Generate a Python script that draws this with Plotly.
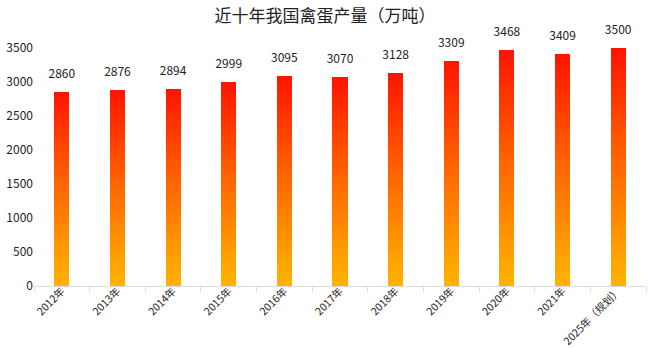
import plotly.graph_objects as go
import numpy as np

categories = ["2012年", "2013年", "2014年", "2015年", "2016年", "2017年",
              "2018年", "2019年", "2020年", "2021年", "2025年（规划）"]
values = [2860, 2876, 2894, 2999, 3095, 3070, 3128, 3309, 3468, 3409, 3500]
value_labels = [str(v) for v in values]

N = 60
bottom_rgb = np.array([255, 180, 0])
mid_rgb = np.array([255, 105, 0])
top_rgb = np.array([255, 20, 0])

def color_at(f):
    if f < 0.5:
        c = bottom_rgb + (mid_rgb - bottom_rgb) * (f / 0.5)
    else:
        c = mid_rgb + (top_rgb - mid_rgb) * ((f - 0.5) / 0.5)
    return "rgb(%d,%d,%d)" % tuple(c.round().astype(int))

fig = go.Figure()
vals = np.array(values, dtype=float)
for i in range(N):
    f = (i + 0.5) / N
    fig.add_trace(go.Bar(
        x=categories, y=vals / N,
        marker=dict(color=color_at(f), line=dict(width=0)),
        showlegend=False, hoverinfo="skip",
    ))

fig.add_trace(go.Scatter(
    x=categories, y=values, mode="markers+text", text=value_labels,
    textposition="top center",
    marker=dict(size=16, color="rgba(0,0,0,0)"),
    textfont=dict(size=12, color="#222222", family="Noto Sans CJK SC"),
    showlegend=False, cliponaxis=False, hoverinfo="skip",
))

fig.update_layout(
    barmode="stack",
    bargap=0.73,
    width=650, height=348,
    margin=dict(l=34, r=4, t=48, b=62),
    paper_bgcolor="white", plot_bgcolor="white",
    font=dict(family="Noto Sans CJK SC", color="#222222"),
    title=dict(text="近十年我国禽蛋产量（万吨）", x=0.5, xanchor="center",
               y=0.955, yanchor="middle",
               font=dict(size=17, color="#222222")),
    xaxis=dict(
        type="category", tickangle=-45, tickson="boundaries",
        range=[-0.5, len(categories) - 0.5],
        ticks="outside", ticklen=5, tickcolor="#dddddd",
        ticklabelstandoff=-6,
        showline=True, linecolor="#dddddd", linewidth=1, automargin=False,
        showgrid=False, tickfont=dict(size=10.5, color="#222222"),
    ),
    yaxis=dict(
        range=[0, 3500], tickvals=[0, 500, 1000, 1500, 2000, 2500, 3000, 3500],
        showgrid=False, zeroline=False, showline=False, automargin=False,
        tickfont=dict(size=12, color="#222222"),
    ),
)

fig.write_html("out.html")
